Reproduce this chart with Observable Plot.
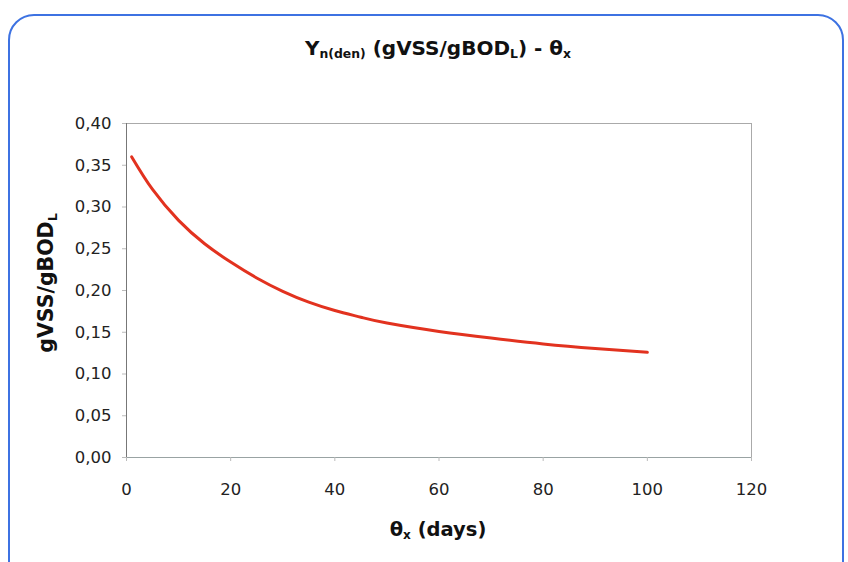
<!DOCTYPE html>
<html><head><meta charset="utf-8">
<script src="https://cdn.jsdelivr.net/npm/d3@7"></script>
<script src="https://cdn.jsdelivr.net/npm/@observablehq/plot@0.6"></script>
<style>
body{margin:0;background:#fff;}
#wrap{position:relative;width:848px;height:562px;overflow:hidden;font-family:"DejaVu Sans",sans-serif;background:#fff;}
#wrap svg{position:absolute;left:0;top:0;}
#border{position:absolute;left:8px;top:14px;width:836px;height:600px;border:2px solid #3d72e2;border-radius:26px;box-sizing:border-box;pointer-events:none;}
</style></head><body><div id="wrap"></div>
<script>
const thetaDays   = [1, 5, 10, 15, 20, 25, 30, 35, 40, 45, 50, 60, 70, 80, 90, 100];
const yieldValues = [0.360, 0.321, 0.284, 0.256, 0.234, 0.215, 0.199, 0.186, 0.176, 0.168, 0.161, 0.151, 0.143, 0.136, 0.1305, 0.126];
const xTicks = [0, 20, 40, 60, 80, 100, 120];
const yTicks = [0, 0.05, 0.10, 0.15, 0.20, 0.25, 0.30, 0.35, 0.40];

const data = thetaDays.map((t, i) => ({theta: t, y: yieldValues[i]}));
const fmt = d => d.toFixed(2).replace(".", ",");

const chart = Plot.plot({
  width: 848, height: 562,
  marginLeft: 126, marginRight: 97, marginTop: 123, marginBottom: 105,
  style: {fontFamily: "'DejaVu Sans', sans-serif", fontSize: "16.5px", color: "#222", background: "transparent"},
  x: {domain: [0, 120]},
  y: {domain: [0, 0.40]},
  marks: [
    Plot.frame({stroke: "#aaa"}),
    Plot.ruleX([0], {stroke: "#777"}),
    Plot.ruleY([0], {stroke: "#99a3a3"}),
    Plot.axisY(yTicks, {tickFormat: fmt, tickSize: 4, tickPadding: 11, stroke: "#bbb", fill: "#222", label: null}),
    Plot.axisX(xTicks, {tickSize: 4, tickPadding: 22, stroke: "#bbb", fill: "#222", label: null}),
    Plot.line(data, {x: "theta", y: "y", curve: "natural", stroke: "#e2321f", strokeWidth: 3})
  ]
});
const wrap = document.getElementById("wrap");
wrap.appendChild(chart);
const b = document.createElement("div"); b.id = "border"; wrap.appendChild(b);

const svg = d3.select(chart);
function addText(parts, opts) {
  const t = svg.append("text")
    .attr("text-anchor", "middle")
    .attr("font-family", "'DejaVu Sans', sans-serif")
    .attr("font-weight", "bold")
    .attr("font-size", opts.size)
    .attr("fill", "#111");
  if (opts.rotate) t.attr("transform", `translate(${opts.x},${opts.y}) rotate(-90)`);
  else t.attr("x", opts.x).attr("y", opts.y);
  parts.forEach(([s, sub]) => {
    const ts = t.append("tspan").text(s);
    if (sub) ts.attr("font-size", opts.size * 0.62).attr("baseline-shift", "-28%");
  });
}
addText([["Y"], ["n(den)", true], [" (gVSS/gBOD"], ["L", true], [") - θ"], ["x", true]], {x: 438, y: 55, size: 20});
addText([["θ"], ["x", true], [" (days)"]], {x: 438, y: 536, size: 19.5});
addText([["gVSS/gBOD"], ["L", true]], {x: 53, y: 283, size: 20.5, rotate: true});
</script>
</body></html>
